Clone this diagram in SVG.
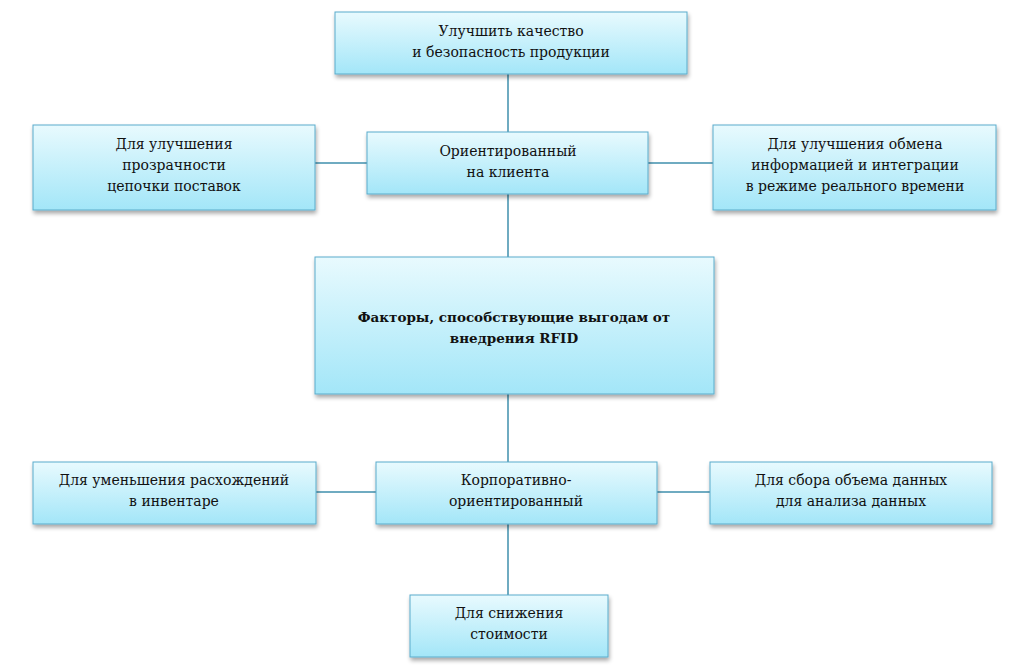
<svg xmlns="http://www.w3.org/2000/svg" width="1028" height="667" viewBox="0 0 1028 667">
<style>
.box{fill:url(#g);stroke:#5aaccb;stroke-width:1;filter:url(#sh)}
.t{font-family:'DejaVu Serif','Liberation Serif',serif;font-size:14px;fill:#111;text-anchor:middle}
.b{font-weight:bold;font-size:13.5px}
.c{stroke:#3f8fad;stroke-width:1.5;fill:none}
</style>
<defs>
<linearGradient id="g" x1="0" y1="0" x2="0" y2="1">
<stop offset="0" stop-color="#e8fafe"/>
<stop offset="1" stop-color="#a3e6f8"/>
</linearGradient>
<filter id="sh" x="-10%" y="-10%" width="120%" height="130%">
<feGaussianBlur in="SourceAlpha" stdDeviation="2"/>
<feOffset dx="1" dy="3" result="o"/>
<feComponentTransfer><feFuncA type="linear" slope="0.35"/></feComponentTransfer>
<feMerge><feMergeNode/><feMergeNode in="SourceGraphic"/></feMerge>
</filter>
</defs>
<rect width="1028" height="667" fill="#fff"/>
<g id="connectors">
<line class="c" x1="508" y1="74" x2="508" y2="132"/>
<line class="c" x1="508" y1="194" x2="508" y2="257"/>
<line class="c" x1="508" y1="394" x2="508" y2="462"/>
<line class="c" x1="508" y1="524" x2="508" y2="595"/>
<line class="c" x1="315" y1="163" x2="367" y2="163"/>
<line class="c" x1="648" y1="163" x2="713" y2="163"/>
<line class="c" x1="316" y1="492" x2="376" y2="492"/>
<line class="c" x1="657" y1="492" x2="710" y2="492"/>
</g>
<g id="top">
<rect class="box" x="335" y="12" width="352" height="62"/>
<text class="t" x="511" y="36">Улучшить качество</text>
<text class="t" x="511" y="57">и безопасность продукции</text>
</g>
<g id="left1">
<rect class="box" x="33" y="125" width="282" height="85"/>
<text class="t" x="174" y="149">Для улучшения</text>
<text class="t" x="174" y="170">прозрачности</text>
<text class="t" x="174" y="191">цепочки поставок</text>
</g>
<g id="center1">
<rect class="box" x="367" y="132" width="281" height="62"/>
<text class="t" x="508" y="156">Ориентированный</text>
<text class="t" x="508" y="177">на клиента</text>
</g>
<g id="right1">
<rect class="box" x="713" y="125" width="283" height="85"/>
<text class="t" x="855" y="149">Для улучшения обмена</text>
<text class="t" x="855" y="170">информацией и интеграции</text>
<text class="t" x="855" y="191">в режиме реального времени</text>
</g>
<g id="main">
<rect class="box" x="315" y="257" width="399" height="137"/>
<text class="t b" x="514" y="322">Факторы, способствующие выгодам от</text>
<text class="t b" x="514" y="343">внедрения RFID</text>
</g>
<g id="left2">
<rect class="box" x="33" y="462" width="283" height="62"/>
<text class="t" x="174" y="485">Для уменьшения расхождений</text>
<text class="t" x="174" y="506">в инвентаре</text>
</g>
<g id="center2">
<rect class="box" x="376" y="462" width="281" height="62"/>
<text class="t" x="516" y="485">Корпоративно-</text>
<text class="t" x="516" y="506">ориентированный</text>
</g>
<g id="right2">
<rect class="box" x="710" y="462" width="282" height="62"/>
<text class="t" x="851" y="485">Для сбора объема данных</text>
<text class="t" x="851" y="506">для анализа данных</text>
</g>
<g id="bottom">
<rect class="box" x="410" y="595" width="198" height="62"/>
<text class="t" x="509" y="618">Для снижения</text>
<text class="t" x="509" y="639">стоимости</text>
</g>
</svg>
